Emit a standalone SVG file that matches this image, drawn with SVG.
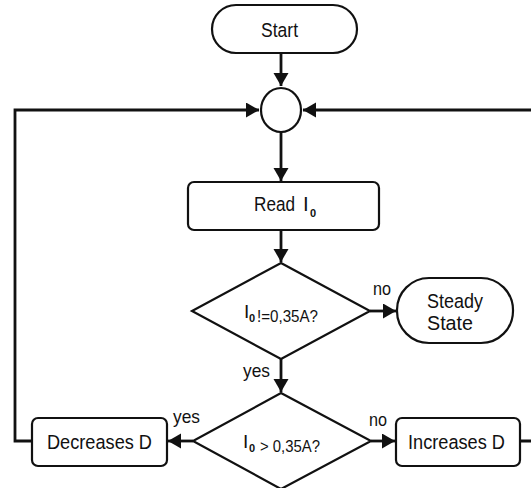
<svg xmlns="http://www.w3.org/2000/svg" width="531" height="488" viewBox="0 0 531 488">
<style>
.shape{fill:#fff;stroke:#111;stroke-width:2.2}
.conn{fill:none;stroke:#111;stroke-width:2.8}
text{font-family:"Liberation Sans",Arial,Helvetica,sans-serif;fill:#111}
.lbl{font-size:20.5px}
.tag{font-size:19px}
.small{font-size:16px}
.sub{font-size:11px;font-weight:bold}
</style>
<defs>
<marker id="ah" markerUnits="userSpaceOnUse" markerWidth="14" markerHeight="16" refX="13" refY="7.5" orient="auto">
<path d="M0,0 L13,7.5 L0,15 Z" fill="#111"/>
</marker>
</defs>
<rect width="531" height="488" fill="#fff"/>
<g id="connectors">
<path class="conn" d="M281,53 V86" marker-end="url(#ah)"/>
<path class="conn" d="M32,441 H15 V110 H259" marker-end="url(#ah)"/>
<path class="conn" d="M520,441 H545 V110 H303" marker-end="url(#ah)"/>
<path class="conn" d="M281,132 V181" marker-end="url(#ah)"/>
<path class="conn" d="M281,230 V262" marker-end="url(#ah)"/>
<path class="conn" d="M370,311 H396" marker-end="url(#ah)"/>
<path class="conn" d="M281,359 V392" marker-end="url(#ah)"/>
<path class="conn" d="M193,441 H168" marker-end="url(#ah)"/>
<path class="conn" d="M371,441 H395" marker-end="url(#ah)"/>
</g>
<g id="start">
<rect class="shape" x="212" y="5" width="145" height="48" rx="24" ry="24"/>
<text class="lbl" x="261" y="37" textLength="37" lengthAdjust="spacingAndGlyphs">Start</text>
</g>
<g id="junction">
<ellipse class="shape" cx="281" cy="110" rx="20" ry="22"/>
</g>
<g id="read">
<rect class="shape" x="188" y="182" width="191" height="48" rx="6" ry="6"/>
<text class="lbl" x="254" y="211" textLength="41" lengthAdjust="spacingAndGlyphs">Read</text>
<text class="lbl" x="303" y="211">I</text>
<text class="sub" x="310" y="217">0</text>
</g>
<g id="decision1">
<polygon class="shape" points="281,263 370,311 281,359 192,311"/>
<text class="tag" x="244" y="318">I</text>
<text class="sub" x="249" y="322">0</text>
<text class="small" x="257" y="322" textLength="61" lengthAdjust="spacingAndGlyphs">!=0,35A?</text>
<text class="tag" x="373" y="295" textLength="18" lengthAdjust="spacingAndGlyphs">no</text>
</g>
<g id="steady">
<rect class="shape" x="397" y="278" width="116" height="65" rx="32" ry="32"/>
<text class="lbl" x="427" y="308" textLength="56" lengthAdjust="spacingAndGlyphs">Steady</text>
<text class="lbl" x="427" y="330" textLength="46" lengthAdjust="spacingAndGlyphs">State</text>
</g>
<g id="decision2">
<polygon class="shape" points="281,393 371,441 281,489 193,441"/>
<text class="tag" x="243" y="377" textLength="27" lengthAdjust="spacingAndGlyphs">yes</text>
<text class="tag" x="243" y="448">I</text>
<text class="sub" x="249" y="452">0</text>
<text class="small" x="260" y="452" textLength="60" lengthAdjust="spacingAndGlyphs">&gt; 0,35A?</text>
<text class="tag" x="173" y="423" textLength="27" lengthAdjust="spacingAndGlyphs">yes</text>
<text class="tag" x="369" y="426" textLength="18" lengthAdjust="spacingAndGlyphs">no</text>
</g>
<g id="decreases">
<rect class="shape" x="32" y="418" width="135" height="48" rx="6" ry="6"/>
<text class="lbl" x="47" y="449" textLength="105" lengthAdjust="spacingAndGlyphs">Decreases D</text>
</g>
<g id="increases">
<rect class="shape" x="396" y="418" width="124" height="48" rx="6" ry="6"/>
<text class="lbl" x="408" y="449" textLength="97" lengthAdjust="spacingAndGlyphs">Increases D</text>
</g>
</svg>
